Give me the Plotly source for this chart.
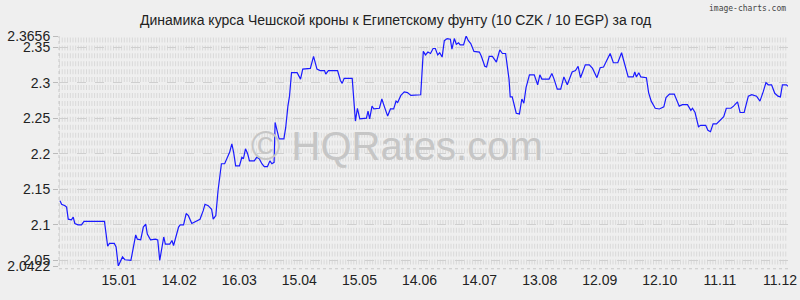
import plotly.graph_objects as go
import pandas as pd

start_date = "2014-12-16"
end_date = "2015-12-15"

# day offsets from start date and rate values (10 CZK / 10 EGP)
days = [0.5, 1.3, 3.0, 3.8, 4.6, 6.2, 7.1, 7.9, 9.5, 11.2, 12.5, 22.7, 24.3, 25.2, 27.6, 28.5,
        29.6, 30.9, 31.7, 32.9, 35.9, 38.3, 39.1, 40.8, 42.1, 43.3, 44.1, 45.7, 48.2, 49.3, 50.3,
        52.3, 53.1, 55.3, 56.4, 57.2, 59.7, 60.5, 62.2, 63.5, 64.6, 66.3, 68.8, 70.4, 72.0, 72.9,
        74.5, 76.2, 77.0, 78.3, 79.4, 81.1, 82.7, 84.4, 85.2, 86.3, 87.2, 88.2, 90.1, 91.3, 92.1,
        93.1, 94.2, 95.1, 97.5, 98.7, 100.0, 101.3, 102.5, 104.1, 105.3, 106.3, 107.4, 107.9,
        108.6, 109.9, 112.3, 113.2, 114.3, 115.1, 116.1, 118.9, 120.6, 121.7, 125.5, 127.1, 128.8,
        130.4, 132.6, 133.2, 134.5, 139.1, 140.5, 141.4, 142.4, 146.4, 148.0, 149.0, 150.2, 151.8,
        153.5, 154.3, 155.1, 156.3, 157.2, 160.0, 161.2, 162.5, 164.1, 165.5, 167.1, 168.3, 169.1,
        170.7, 172.4, 174.0, 175.7, 180.6,
        181.9, 183.0, 184.2, 185.5, 186.8, 187.9, 189.1, 190.1, 191.3, 192.4, 193.8, 195.4, 196.2,
        197.4, 198.4, 199.5, 200.3, 202.0, 203.3, 204.4, 205.6, 207.2, 209.9, 210.9, 212.6, 213.5,
        214.8, 216.4, 218.4, 220.1, 221.4, 223.0, 224.7, 225.3, 226.3, 228.3, 229.9, 231.1, 232.1,
        233.2, 234.9, 237.3, 239.0, 240.1, 241.1, 244.7, 246.1, 247.2, 248.8, 250.5, 252.1, 253.8,
        256.2, 257.9, 259.2, 260.4, 261.2, 262.8, 264.8, 266.4, 268.6, 270.2, 271.9, 273.0, 275.2,
        276.8, 279.0, 280.9, 282.6, 284.2, 286.7, 287.5, 288.3, 289.5, 290.5, 293.3, 294.4, 295.7,
        297.7, 299.8, 302.0, 303.1, 304.8, 307.2, 309.7, 311.3, 313.8, 315.5, 316.3, 317.6, 319.3,
        320.4, 322.9, 324.0, 325.3, 326.6, 328.3, 329.9, 331.9, 333.2, 335.5, 336.8, 338.8, 340.1,
        342.1, 344.2, 345.9, 348.3, 350.0, 351.6, 353.0, 354.1, 355.8, 357.4, 359.0, 360.2, 361.2,
        363.2, 364.0]

rates = [2.134, 2.129, 2.127, 2.125, 2.108, 2.107, 2.111, 2.102, 2.100, 2.100, 2.105, 2.105, 2.070,
         2.074, 2.074, 2.069, 2.0422, 2.050, 2.055, 2.051, 2.050, 2.086, 2.080, 2.079, 2.097, 2.101,
         2.087, 2.079, 2.080, 2.079, 2.050, 2.083, 2.073, 2.073, 2.078, 2.071, 2.097, 2.100, 2.100,
         2.116, 2.113, 2.102, 2.105, 2.108, 2.120, 2.129, 2.127, 2.122, 2.108, 2.113, 2.148, 2.186,
         2.186, 2.197, 2.202, 2.214, 2.202, 2.183, 2.183, 2.195, 2.193, 2.207, 2.200, 2.190, 2.190,
         2.195, 2.193, 2.186, 2.182, 2.182, 2.190, 2.186, 2.188, 2.244, 2.237, 2.221, 2.221, 2.237,
         2.267, 2.281, 2.314, 2.314, 2.305, 2.319, 2.320, 2.337, 2.319, 2.317, 2.317, 2.312, 2.317,
         2.317, 2.303, 2.299, 2.306, 2.306, 2.246, 2.264, 2.249, 2.249, 2.250, 2.260, 2.249, 2.267,
         2.263, 2.264, 2.277, 2.266, 2.253, 2.263, 2.263, 2.274, 2.272, 2.282, 2.287, 2.286, 2.282,
         2.283,
         2.344, 2.339, 2.343, 2.341, 2.348, 2.348, 2.339, 2.342, 2.336, 2.359, 2.362, 2.361, 2.347,
         2.362, 2.354, 2.356, 2.353, 2.353, 2.3656, 2.359, 2.355, 2.344, 2.343, 2.337, 2.323, 2.322,
         2.337, 2.337, 2.329, 2.346, 2.341, 2.341, 2.305, 2.280, 2.280, 2.257, 2.256, 2.277, 2.271,
         2.293, 2.311, 2.311, 2.297, 2.311, 2.305, 2.305, 2.313, 2.305, 2.291, 2.291, 2.308, 2.297,
         2.315, 2.317, 2.323, 2.307, 2.314, 2.325, 2.325, 2.320, 2.307, 2.321, 2.322, 2.328, 2.341,
         2.328, 2.328, 2.342, 2.326, 2.308, 2.308, 2.315, 2.308, 2.314, 2.308, 2.307, 2.286, 2.274,
         2.264, 2.263, 2.266, 2.279, 2.284, 2.284, 2.267, 2.269, 2.269, 2.261, 2.264, 2.258, 2.238,
         2.240, 2.240, 2.233, 2.231, 2.242, 2.242, 2.247, 2.252, 2.264, 2.264, 2.267, 2.273, 2.258,
         2.258, 2.281, 2.283, 2.281, 2.274, 2.287, 2.300, 2.297, 2.297, 2.285, 2.281, 2.280, 2.297,
         2.297, 2.295]

tick_dates = ["2015-01-15", "2015-02-14", "2015-03-16", "2015-04-15", "2015-05-15", "2015-06-14",
              "2015-07-14", "2015-08-13", "2015-09-12", "2015-10-12", "2015-11-11", "2015-12-11"]
tick_labels = ["15.01", "14.02", "16.03", "15.04", "15.05", "14.06", "14.07", "13.08", "12.09",
               "12.10", "11.11", "11.12"]
y_ticks = [2.0422, 2.05, 2.1, 2.15, 2.2, 2.25, 2.3, 2.35, 2.3656]
y_labels = ["2.0422", "2.05", "2.1", "2.15", "2.2", "2.25", "2.3", "2.35", "2.3656"]

dates = pd.Timestamp(start_date) + pd.to_timedelta(days, unit="D")

fig = go.Figure()
fig.add_trace(go.Scatter(x=dates, y=rates, mode="lines",
                         line=dict(color="#1a1aff", width=1.2), hoverinfo="skip"))

shapes = []
n_rows = 29
for i in range(n_rows):
    yy = (i + 0.5) / n_rows
    shapes.append(dict(type="line", xref="paper", yref="paper", x0=0, x1=1, y0=yy, y1=yy,
                       line=dict(color="#d9d9d9", width=5, dash="1px,1.7px"), layer="below"))
shapes.append(dict(type="line", xref="paper", yref="paper", x0=0, x1=0, y0=0, y1=1,
                   line=dict(color="#c8c8c8", width=1, dash="dot"), layer="below"))
shapes.append(dict(type="line", xref="paper", yref="paper", x0=0, x1=1, y0=-0.012, y1=-0.012,
                   line=dict(color="#c8c8c8", width=1, dash="dot"), layer="below"))

fig.update_layout(
    width=800, height=300,
    margin=dict(l=59, r=3, t=36, b=34),
    paper_bgcolor="#efefef", plot_bgcolor="#efefef",
    showlegend=False,
    font=dict(family="Liberation Sans, Arial, sans-serif", color="#222222", size=14),
    shapes=shapes,
    xaxis=dict(type="date", range=[start_date, end_date], tickvals=tick_dates, ticktext=tick_labels,
               showgrid=False, zeroline=False, showline=False, ticks="",
               tickfont=dict(size=14, color="#222222"), ticklabelstandoff=4,
               ticklabeloverflow="allow"),
    yaxis=dict(range=[2.0422, 2.3656], tickvals=y_ticks, ticktext=y_labels,
               showgrid=True, gridcolor="#cfcfcf", griddash="dash", gridwidth=1,
               zeroline=False, showline=False, ticks="outside", ticklen=5, tickcolor="#bbbbbb",
               tickfont=dict(size=14, color="#222222")),
    annotations=[
        dict(text="Динамика курса Чешской кроны к Египетскому фунту (10 CZK / 10 EGP) за год",
             xref="paper", yref="paper", x=0.462, y=1, yshift=6, xanchor="center", yanchor="bottom",
             showarrow=False, font=dict(size=14, color="#222222"),
             ),
        dict(text="image-charts.com", xref="paper", yref="paper", x=1, y=1, yshift=21, xanchor="right",
             yanchor="bottom", showarrow=False, font=dict(family="DejaVu Sans Mono", size=8, color="#444444")),
        dict(text="© HQRates.com", xref="paper", yref="paper", x=0.464, y=0.52, xanchor="center",
             yanchor="middle", showarrow=False, font=dict(size=40, color="#c6c6c6")),
    ],
)

fig.write_html("out.html")
